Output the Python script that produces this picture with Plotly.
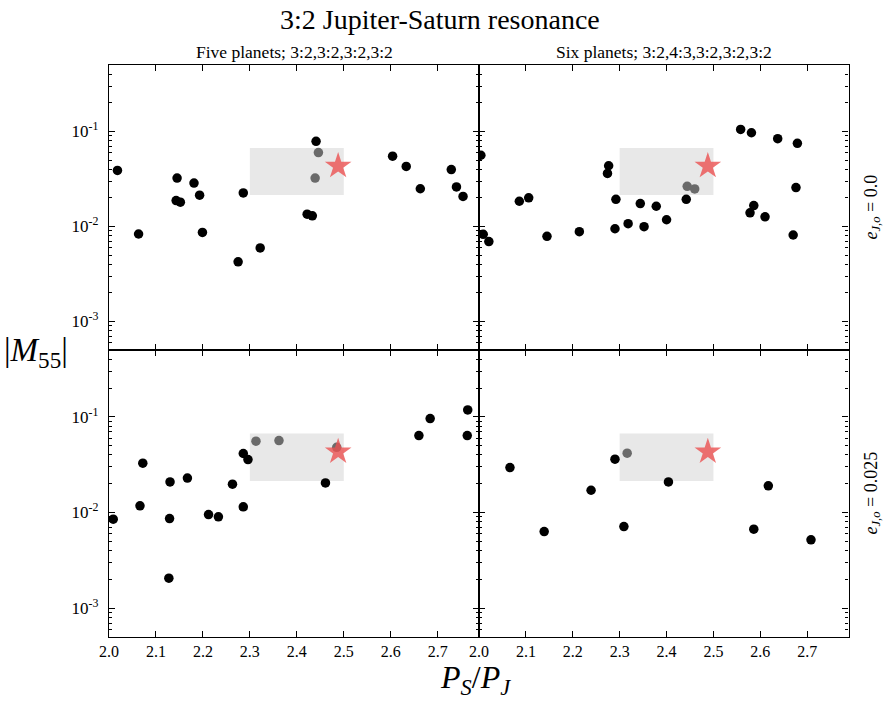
import plotly.graph_objects as go
import numpy as np

# ---------------- data ----------------
# Top-left: five planets, e_Jo = 0.0
tl_x = [2.018, 2.063, 2.145, 2.143, 2.152, 2.181, 2.193, 2.199, 2.275, 2.286, 2.322,
        2.422, 2.433, 2.441, 2.604, 2.633, 2.663, 2.729, 2.740, 2.754]
tl_y = [0.0388, 0.00832, 0.0323, 0.0187, 0.0180, 0.0286, 0.0213, 0.00865, 0.00424, 0.0225, 0.00594,
        0.01345, 0.01293, 0.0786, 0.0548, 0.0428, 0.0249, 0.0397, 0.0260, 0.0207]
tl_gx = [2.446, 2.439]
tl_gy = [0.0598, 0.0323]

# Top-right: six planets, e_Jo = 0.0
tr_x = [2.004, 2.009, 2.021, 2.086, 2.106, 2.145, 2.214, 2.2765, 2.274, 2.292, 2.290,
        2.318, 2.344, 2.352, 2.378, 2.400, 2.442, 2.558, 2.581, 2.637, 2.679, 2.676,
        2.586, 2.578, 2.610, 2.670]
tr_y = [0.0561, 0.00825, 0.00692, 0.0184, 0.0200, 0.00786, 0.00879, 0.0435, 0.0361, 0.0193, 0.00945,
        0.01067, 0.0174, 0.00992, 0.0163, 0.01175, 0.0193, 0.105, 0.0968, 0.0838, 0.0749, 0.0256,
        0.01658, 0.0139, 0.0126, 0.00812]
tr_gx = [2.444, 2.460]
tr_gy = [0.0264, 0.0248]

# Bottom-left: five planets, e_Jo = 0.025
bl_x = [2.009, 2.072, 2.066, 2.130, 2.129, 2.1275, 2.167, 2.212, 2.233, 2.263, 2.286,
        2.296, 2.286, 2.461, 2.660, 2.684, 2.764, 2.763]
bl_y = [0.00852, 0.0328, 0.01175, 0.0209, 0.00865, 0.00206, 0.0229, 0.00953, 0.00901, 0.0198, 0.0414,
        0.0358, 0.01146, 0.0204, 0.0638, 0.0961, 0.1183, 0.0638]
bl_gx = [2.313, 2.362, 2.485]
bl_gy = [0.0557, 0.0566, 0.048]

# Bottom-right: six planets, e_Jo = 0.025
br_x = [2.066, 2.139, 2.239, 2.290, 2.309, 2.404, 2.586, 2.617, 2.708]
br_y = [0.0295, 0.00633, 0.0171, 0.0361, 0.00714, 0.0209, 0.0067, 0.0190, 0.00518]
br_gx = [2.316]
br_gy = [0.0417]

# Solar-system value (star) and target box
star_x = [2.488]
star_y = [0.0432]
box_x = [2.3, 2.5, 2.5, 2.3, 2.3]
box_y = [0.0214, 0.0214, 0.067, 0.067, 0.0214]

col_titles = ["Five planets; 3:2,3:2,3:2,3:2", "Six planets; 3:2,4:3,3:2,3:2,3:2"]
row_titles = ["<i>e</i><sub><i>J,o</i></sub> = 0.0", "<i>e</i><sub><i>J,o</i></sub> = 0.025"]
xtick_vals = [2.0, 2.1, 2.2, 2.3, 2.4, 2.5, 2.6, 2.7]
xtick_text = ["2.0", "2.1", "2.2", "2.3", "2.4", "2.5", "2.6", "2.7"]
ytick_vals = [1e-3, 1e-2, 1e-1]
ytick_text = ["10<sup>-3</sup>", "10<sup>-2</sup>", "10<sup>-1</sup>"]

# ---------------- layout ----------------
W, H = 886, 702
FONT = "Liberation Serif"
xdom = [(109, 479), (479, 848.5)]
ydom = [(65, 350), (350, 637)]

minor_vals = []
for d in [1e-4, 1e-3, 1e-2, 1e-1]:
    for k in range(2, 10):
        minor_vals.append(k * d)

fig = go.Figure()

panels = [
    (0, 0, tl_x, tl_y, tl_gx, tl_gy),
    (1, 0, tr_x, tr_y, tr_gx, tr_gy),
    (0, 1, bl_x, bl_y, bl_gx, bl_gy),
    (1, 1, br_x, br_y, br_gx, br_gy),
]

for i, (c, r, px, py, gx, gy) in enumerate(panels):
    n = i + 1
    xa = "x" if n == 1 else f"x{n}"
    ya = "y" if n == 1 else f"y{n}"
    fig.add_trace(go.Scatter(x=box_x, y=box_y, mode="lines", fill="toself",
                             fillcolor="#e8e8e8", line=dict(width=0),
                             xaxis=xa, yaxis=ya, showlegend=False, hoverinfo="skip"))
    fig.add_trace(go.Scatter(x=px, y=py, mode="markers",
                             marker=dict(color="black", size=9.5, line=dict(width=0)),
                             xaxis=xa, yaxis=ya, showlegend=False))
    fig.add_trace(go.Scatter(x=gx, y=gy, mode="markers",
                             marker=dict(color="#6a6a6a", size=9.5, line=dict(width=0)),
                             xaxis=xa, yaxis=ya, showlegend=False))
    fig.add_trace(go.Scatter(x=star_x, y=star_y, mode="markers",
                             marker=dict(symbol="star", color="rgba(235,80,80,0.8)", size=20,
                                         line=dict(width=0)),
                             xaxis=xa, yaxis=ya, showlegend=False))

    xkey = "xaxis" if n == 1 else f"xaxis{n}"
    ykey = "yaxis" if n == 1 else f"yaxis{n}"
    fig.layout[xkey] = dict(
        domain=[xdom[c][0] / W, xdom[c][1] / W], anchor=ya, automargin=False,
        range=[2.0, 2.788], tickvals=xtick_vals, ticktext=xtick_text,
        showticklabels=(r == 1), ticks="inside", ticklen=6, tickwidth=1,
        tickcolor="black", showline=True, linecolor="black", linewidth=1.3,
        mirror="allticks", showgrid=False, zeroline=False,
        tickfont=dict(family=FONT, size=16, color="black"))
    fig.layout[ykey] = dict(
        domain=[1 - ydom[r][1] / H, 1 - ydom[r][0] / H], anchor=xa, automargin=False,
        type="log", range=[np.log10(5e-4), np.log10(0.5)],
        tickvals=ytick_vals, ticktext=ytick_text, ticklabelstandoff=6,
        showticklabels=(c == 0), ticks="inside", ticklen=6, tickwidth=1,
        tickcolor="black", showline=True, linecolor="black", linewidth=1.3,
        mirror="allticks", showgrid=False, zeroline=False,
        minor=dict(tickvals=minor_vals, ticks="inside", ticklen=3, tickcolor="black",
                   tickwidth=1, showgrid=False),
        tickfont=dict(family=FONT, size=17, color="black"))

ann = []
ann.append(dict(text="3:2 Jupiter-Saturn resonance", x=440 / W, y=1 - 20 / H,
                xref="paper", yref="paper", showarrow=False, xanchor="center", yanchor="middle",
                font=dict(family=FONT, size=28, color="black")))
for c in range(2):
    ann.append(dict(text=col_titles[c], x=(xdom[c][0] + xdom[c][1]) / 2 / W, y=1 - 52 / H,
                    xref="paper", yref="paper", showarrow=False, xanchor="center", yanchor="middle",
                    font=dict(family=FONT, size=17.5, color="black")))
for r in range(2):
    ann.append(dict(text=row_titles[r], x=872 / W, y=1 - (ydom[r][0] + ydom[r][1]) / 2 / H,
                    xref="paper", yref="paper", showarrow=False, textangle=-90,
                    xanchor="center", yanchor="middle",
                    font=dict(family=FONT, size=18, color="black")))
ann.append(dict(text="|<i>M</i><sub>55</sub>|", x=36 / W, y=1 - 352 / H,
                xref="paper", yref="paper", showarrow=False, xanchor="center", yanchor="middle",
                font=dict(family=FONT, size=33, color="black")))
ann.append(dict(text="<i>P</i><sub><i>S</i></sub>/<i>P</i><sub><i>J</i></sub>", x=475 / W, y=1 - 679 / H,
                xref="paper", yref="paper", showarrow=False, xanchor="center", yanchor="middle",
                font=dict(family=FONT, size=32, color="black")))

fig.update_layout(template="none", width=W, height=H, margin=dict(l=0, r=0, t=0, b=0),
                  paper_bgcolor="white", plot_bgcolor="white",
                  font=dict(family=FONT, color="black"),
                  annotations=ann, showlegend=False)

fig.write_html("out.html")
